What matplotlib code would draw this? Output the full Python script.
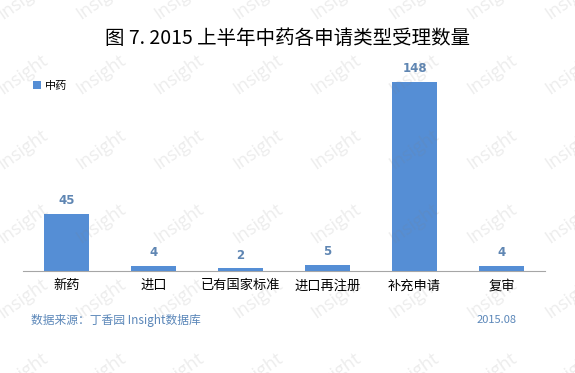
import matplotlib
matplotlib.use('Agg')
import matplotlib.pyplot as plt
import numpy as np

plt.rcParams['font.family'] = ['Noto Sans CJK SC', 'DejaVu Sans']

categories = ['新药', '进口', '已有国家标准', '进口再注册', '补充申请', '复审']
values = [45, 4, 2, 5, 148, 4]
series_name = '中药'
title = '图 7. 2015 上半年中药各申请类型受理数量'
source = '数据来源：丁香园 Insight数据库'
date = '2015.08'

BAR_COLOR = '#558ed5'
LABEL_COLOR = '#5f86b3'

fig = plt.figure(figsize=(5.75, 3.73), dpi=100)
fig.patch.set_facecolor('white')

# faint "Insight" watermark grid
for yy in np.arange(0.0, 1.05, 0.2):
    for xx in np.arange(0.04, 1.05, 0.136):
        fig.text(xx, yy, 'Insight', rotation=35, fontsize=13, color='#7f7f7f',
                 alpha=0.14, ha='center', va='center', zorder=5,
                 family='Open Sans')

ax = fig.add_axes([23 / 575, 1 - 271 / 373, 522 / 575, 196 / 373])
ax.set_facecolor('none')
x = np.arange(len(categories))
ax.bar(x, values, width=0.51, color=BAR_COLOR, zorder=3, label=series_name)
ax.set_xlim(-0.5, len(categories) - 0.5)
ax.set_ylim(0, 153.5)

for xi, v in zip(x, values):
    ax.annotate(str(v), (xi, v), xytext=(0, 5), textcoords='offset points',
                ha='center', va='bottom', fontsize=8.5, fontweight='bold',
                color=LABEL_COLOR, family='DejaVu Sans')

for s in ['top', 'right', 'left']:
    ax.spines[s].set_visible(False)
ax.spines['bottom'].set_color('#a6a6a6')
ax.set_yticks([])
ax.set_xticks(x)
ax.set_xticklabels(categories, fontsize=9.5)
ax.tick_params(axis='x', length=0, pad=6)

fig.text(0.5, 1 - 38 / 373, title, ha='center', va='center', fontsize=14)

ax.legend(loc='upper left', bbox_to_anchor=(0.0, 1.02), frameon=False,
          fontsize=8, handlelength=0.7, handleheight=0.7, handletextpad=0.4)

fig.text(31 / 575, 1 - 320 / 373, source, ha='left', va='center', fontsize=8.5,
         color='#5b87b9')
fig.text(517 / 575, 1 - 320 / 373, date, ha='right', va='center', fontsize=8,
         color='#5b87b9')

fig.savefig('out.png', dpi=100, facecolor='white')
